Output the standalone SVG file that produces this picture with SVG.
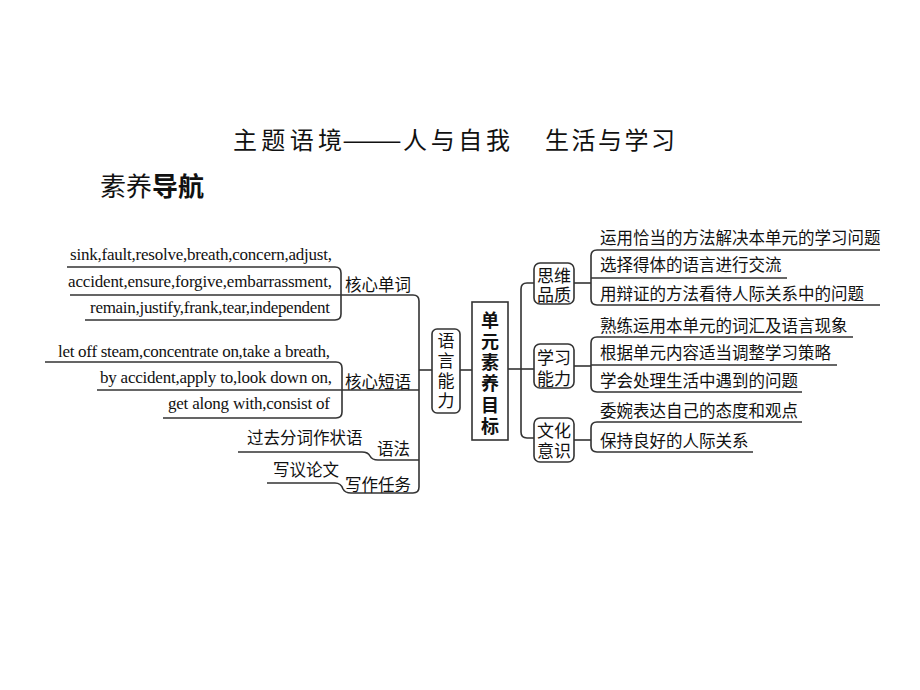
<svg xmlns="http://www.w3.org/2000/svg" width="920" height="690" viewBox="0 0 920 690">
<style>
.zh{font-family:"Noto Sans CJK SC","Noto Sans",sans-serif;fill:#111}
.en{font-family:"Liberation Serif","Times New Roman",serif;font-size:17px;fill:#111}
.t16{font-size:16.5px}
.box{fill:#fff;stroke:#333;stroke-width:1.6}
.ln{fill:none;stroke:#333;stroke-width:1.6;stroke-linejoin:round}
.bx{font-size:17px;text-anchor:middle}
.vt{writing-mode:vertical-rl}
</style>
<rect width="920" height="690" fill="#fff"/>
<g id="title">
<text class="zh" x="233" y="149" font-size="24" textLength="109" lengthAdjust="spacing">主题语境</text>
<text class="zh" x="342" y="149" font-size="24" textLength="60" lengthAdjust="spacingAndGlyphs">——</text>
<text class="zh" x="403" y="149" font-size="24" textLength="107" lengthAdjust="spacing">人与自我</text>
<text class="zh" x="545" y="149" font-size="24" textLength="130" lengthAdjust="spacing">生活与学习</text>
</g>
<g id="subtitle">
<text class="zh" x="100" y="196" font-size="26">素养<tspan font-weight="bold">导航</tspan></text>
</g>
<g id="connectors">
<path class="ln" d="M67,267 H335 Q341,267 341,273 V314 Q341,320 335,320 H85"/>
<path class="ln" d="M70,295 H413 Q419,295 419,301 V487 Q419,493 413,493 H351 Q345,493 343,489 Q341,483 335,483 H267"/>
<path class="ln" d="M45,362 H336 Q342,362 342,368 V412 Q342,418 336,418 H163"/>
<path class="ln" d="M97,390 H419"/>
<path class="ln" d="M238,452 H362 Q368,452 370,456 Q372,460 378,460 H419"/>
<path class="ln" d="M419,370 H432"/>
<path class="ln" d="M460,370 H472"/>
<path class="ln" d="M508,369 H534"/>
<path class="ln" d="M534,283 H527 Q521,283 521,289 V432 Q521,438 527,438 H534"/>
<path class="ln" d="M574,283 H591"/>
<path class="ln" d="M880,250 H597 Q591,250 591,256 V299 Q591,305 597,305 H880"/>
<path class="ln" d="M591,278 H787"/>
<path class="ln" d="M574,366 H591"/>
<path class="ln" d="M853,337 H597 Q591,337 591,343 V386 Q591,392 597,392 H802"/>
<path class="ln" d="M591,365 H837"/>
<path class="ln" d="M574,440 H591"/>
<path class="ln" d="M802,422 H597 Q591,422 591,428 V446 Q591,452 597,452 H753"/>
</g>
<g id="words">
<text class="en" x="70" y="260" textLength="262" lengthAdjust="spacing">sink,fault,resolve,breath,concern,adjust,</text>
<text class="en" x="68" y="287" textLength="264" lengthAdjust="spacing">accident,ensure,forgive,embarrassment,</text>
<text class="en" x="90" y="313" textLength="240" lengthAdjust="spacing">remain,justify,frank,tear,independent</text>
</g>
<g id="node-core-words"><text class="zh t16" x="345" y="291">核心单词</text></g>
<g id="phrases">
<text class="en" x="58" y="357" textLength="272" lengthAdjust="spacing">let off steam,concentrate on,take a breath,</text>
<text class="en" x="100" y="383" textLength="232" lengthAdjust="spacing">by accident,apply to,look down on,</text>
<text class="en" x="168" y="409" textLength="162" lengthAdjust="spacing">get along with,consist of</text>
</g>
<g id="node-core-phrases"><text class="zh t16" x="345" y="388">核心短语</text></g>
<g id="grammar-item"><text class="zh t16" x="247" y="444">过去分词作状语</text></g>
<g id="node-grammar"><text class="zh t16" x="377" y="455">语法</text></g>
<g id="writing-item"><text class="zh t16" x="273" y="476">写议论文</text></g>
<g id="node-writing"><text class="zh t16" x="345" y="491">写作任务</text></g>
<g id="node-language">
<rect class="box" x="432" y="329" width="28" height="84" rx="5"/>
<text class="zh vt" x="446" y="332" font-size="17" letter-spacing="3">语言能力</text>
</g>
<g id="node-goals">
<rect class="box" x="472" y="302" width="36" height="138"/>
<text class="zh vt" x="490" y="311" font-size="18" font-weight="bold" letter-spacing="3.2">单元素养目标</text>
</g>
<g id="node-thinking">
<rect class="box" x="534" y="263" width="40" height="41" rx="6"/>
<text class="zh bx" x="554" y="282">思维<tspan x="554" y="301">品质</tspan></text>
</g>
<g id="node-learning">
<rect class="box" x="534" y="344" width="40" height="44" rx="6"/>
<text class="zh bx" x="554" y="364">学习<tspan x="554" y="385">能力</tspan></text>
</g>
<g id="node-culture">
<rect class="box" x="534" y="418" width="40" height="44" rx="6"/>
<text class="zh bx" x="554" y="437">文化<tspan x="554" y="457">意识</tspan></text>
</g>
<g id="thinking-items">
<text class="zh t16" x="600" y="244">运用恰当的方法解决本单元的学习问题</text>
<text class="zh t16" x="600" y="271">选择得体的语言进行交流</text>
<text class="zh t16" x="600" y="300">用辩证的方法看待人际关系中的问题</text>
</g>
<g id="learning-items">
<text class="zh t16" x="600" y="332">熟练运用本单元的词汇及语言现象</text>
<text class="zh t16" x="600" y="359">根据单元内容适当调整学习策略</text>
<text class="zh t16" x="600" y="387">学会处理生活中遇到的问题</text>
</g>
<g id="culture-items">
<text class="zh t16" x="600" y="417">委婉表达自己的态度和观点</text>
<text class="zh t16" x="600" y="447">保持良好的人际关系</text>
</g>
</svg>
